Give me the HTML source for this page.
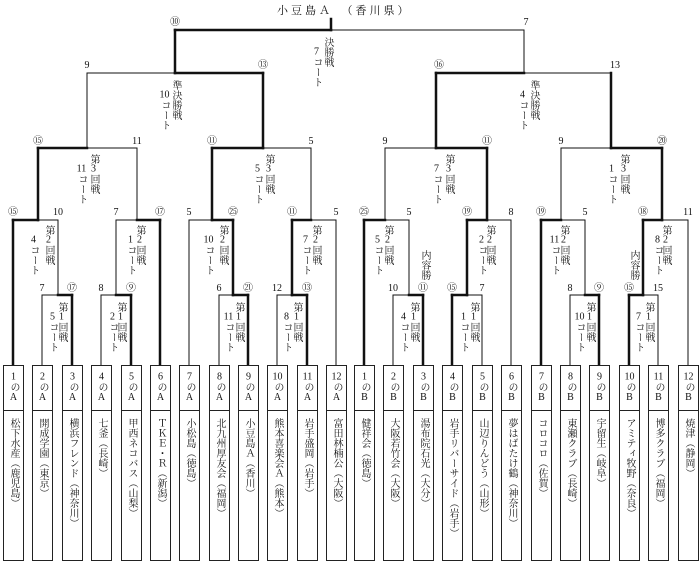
<!DOCTYPE html>
<html><head><meta charset="utf-8"><style>
html,body{margin:0;padding:0;background:#fff;}
#w{position:relative;width:700px;height:570px;overflow:hidden;font-family:"Liberation Serif","Noto Serif CJK SC","Noto Sans CJK JP",serif;color:#111;}
svg{position:absolute;left:0;top:0;}
.v{position:absolute;writing-mode:vertical-rl;text-orientation:upright;font-size:10px;line-height:10px;width:10px;white-space:nowrap;}
.v span{text-combine-upright:all;}
.box{position:absolute;top:365px;width:19px;height:194px;border:1px solid #222;background:#fff;}
.box .h{position:absolute;left:0;top:0;width:19px;height:44px;border-bottom:1px solid #222;}
.box .h div{position:absolute;left:4px;top:6px;writing-mode:vertical-rl;text-orientation:upright;font-size:10px;line-height:11px;}
.box .h span{text-combine-upright:all;}
.box .n{position:absolute;left:4px;top:52px;writing-mode:vertical-rl;text-orientation:upright;font-size:10px;line-height:11px;white-space:nowrap;}
.t{position:absolute;top:2px;left:277px;font-size:11px;letter-spacing:3px;white-space:nowrap;}
</style></head><body><div id="w">
<div class="t">小豆島Ａ　（香川県）</div>
<svg width="700" height="570" xmlns="http://www.w3.org/2000/svg" stroke="#111" stroke-linecap="square">
<g stroke-width="1">
<!-- left thin -->
<line x1="42" y1="365" x2="42" y2="295"/><line x1="42" y1="295" x2="58" y2="295"/>
<line x1="58" y1="295" x2="58" y2="220"/><line x1="38" y1="220" x2="58" y2="220"/>
<line x1="101" y1="365" x2="101" y2="295"/><line x1="101" y1="295" x2="116" y2="295"/>
<line x1="116" y1="295" x2="116" y2="220"/><line x1="116" y1="220" x2="137" y2="220"/>
<line x1="137" y1="220" x2="137" y2="148"/><line x1="87" y1="148" x2="137" y2="148"/>
<line x1="87" y1="148" x2="87" y2="73"/><line x1="87" y1="73" x2="175" y2="73"/>
<line x1="189" y1="365" x2="189" y2="220"/><line x1="189" y1="220" x2="212" y2="220"/>
<line x1="219" y1="365" x2="219" y2="295"/><line x1="219" y1="295" x2="233" y2="295"/>
<line x1="277" y1="365" x2="277" y2="295"/><line x1="277" y1="295" x2="292" y2="295"/>
<line x1="336" y1="365" x2="336" y2="220"/><line x1="311" y1="220" x2="336" y2="220"/>
<line x1="311" y1="220" x2="311" y2="148"/><line x1="263" y1="148" x2="311" y2="148"/>
<line x1="331" y1="30" x2="524" y2="30"/>
<!-- right thin -->
<line x1="393" y1="365" x2="393" y2="295"/><line x1="393" y1="295" x2="409" y2="295"/>
<line x1="409" y1="295" x2="409" y2="220"/><line x1="385" y1="220" x2="409" y2="220"/>
<line x1="385" y1="220" x2="385" y2="148"/><line x1="385" y1="148" x2="436" y2="148"/>
<line x1="482" y1="365" x2="482" y2="295"/><line x1="467" y1="295" x2="482" y2="295"/>
<line x1="511" y1="365" x2="511" y2="220"/><line x1="487" y1="220" x2="511" y2="220"/>
<line x1="570" y1="365" x2="570" y2="295"/><line x1="570" y1="295" x2="585" y2="295"/>
<line x1="585" y1="295" x2="585" y2="220"/><line x1="561" y1="220" x2="585" y2="220"/>
<line x1="561" y1="220" x2="561" y2="148"/><line x1="561" y1="148" x2="611" y2="148"/>
<line x1="658" y1="365" x2="658" y2="295"/><line x1="643" y1="295" x2="658" y2="295"/>
<line x1="688" y1="365" x2="688" y2="220"/><line x1="662" y1="220" x2="688" y2="220"/>
<line x1="524" y1="73" x2="611" y2="73"/><line x1="524" y1="73" x2="524" y2="30"/>
</g>
<g stroke-width="2.5">
<line x1="13" y1="365" x2="13" y2="220"/><line x1="13" y1="220" x2="38" y2="220"/>
<line x1="38" y1="220" x2="38" y2="148"/><line x1="38" y1="148" x2="87" y2="148"/>
<line x1="72" y1="365" x2="72" y2="295"/><line x1="58" y1="295" x2="72" y2="295"/>
<line x1="131" y1="365" x2="131" y2="295"/><line x1="116" y1="295" x2="131" y2="295"/>
<line x1="160" y1="365" x2="160" y2="220"/><line x1="137" y1="220" x2="160" y2="220"/>
<line x1="248" y1="365" x2="248" y2="295"/><line x1="233" y1="295" x2="248" y2="295"/>
<line x1="233" y1="295" x2="233" y2="220"/><line x1="212" y1="220" x2="233" y2="220"/>
<line x1="212" y1="220" x2="212" y2="148"/><line x1="212" y1="148" x2="263" y2="148"/>
<line x1="307" y1="365" x2="307" y2="295"/><line x1="292" y1="295" x2="307" y2="295"/>
<line x1="292" y1="295" x2="292" y2="220"/><line x1="292" y1="220" x2="311" y2="220"/>
<line x1="263" y1="148" x2="263" y2="73"/><line x1="175" y1="73" x2="263" y2="73"/>
<line x1="175" y1="73" x2="175" y2="30"/><line x1="175" y1="30" x2="331" y2="30"/>
<line x1="331" y1="30" x2="331" y2="19"/>
<line x1="364" y1="365" x2="364" y2="220"/><line x1="364" y1="220" x2="385" y2="220"/>
<line x1="423" y1="365" x2="423" y2="295"/><line x1="409" y1="295" x2="423" y2="295"/>
<line x1="452" y1="365" x2="452" y2="295"/><line x1="452" y1="295" x2="467" y2="295"/>
<line x1="467" y1="295" x2="467" y2="220"/><line x1="467" y1="220" x2="487" y2="220"/>
<line x1="487" y1="220" x2="487" y2="148"/><line x1="436" y1="148" x2="487" y2="148"/>
<line x1="436" y1="148" x2="436" y2="73"/><line x1="436" y1="73" x2="524" y2="73"/>
<line x1="541" y1="365" x2="541" y2="220"/><line x1="541" y1="220" x2="561" y2="220"/>
<line x1="599" y1="365" x2="599" y2="295"/><line x1="585" y1="295" x2="599" y2="295"/>
<line x1="629" y1="365" x2="629" y2="295"/><line x1="629" y1="295" x2="643" y2="295"/>
<line x1="643" y1="295" x2="643" y2="220"/><line x1="643" y1="220" x2="662" y2="220"/>
<line x1="662" y1="220" x2="662" y2="148"/><line x1="611" y1="148" x2="662" y2="148"/>
<line x1="611" y1="148" x2="611" y2="73"/>
</g>
<g stroke="none" fill="#111" font-size="10" text-anchor="middle" font-family="Liberation Serif, Noto Serif CJK SC, serif">
<text x="175" y="25">⑩</text><text x="526" y="25">7</text>
<text x="87" y="68">9</text><text x="263" y="68">⑬</text><text x="439" y="68">⑯</text><text x="615" y="68">13</text>
<text x="38" y="144">⑮</text><text x="137" y="144">11</text><text x="212" y="144">⑪</text><text x="311" y="144">5</text>
<text x="385" y="144">9</text><text x="487" y="144">⑪</text><text x="561" y="144">9</text><text x="662" y="144">⑳</text>
<text x="13" y="215">⑮</text><text x="58" y="215">10</text><text x="116" y="215">7</text><text x="160" y="215">⑰</text>
<text x="189" y="215">5</text><text x="233" y="215">㉕</text><text x="292" y="215">⑪</text><text x="336" y="215">5</text>
<text x="364" y="215">㉕</text><text x="409" y="215">5</text><text x="467" y="215">⑲</text><text x="511" y="215">8</text>
<text x="541" y="215">⑲</text><text x="585" y="215">5</text><text x="643" y="215">⑱</text><text x="688" y="215">11</text>
<text x="42" y="291">7</text><text x="72" y="291">⑰</text><text x="101" y="291">8</text><text x="131" y="291">⑨</text>
<text x="219" y="291">6</text><text x="248" y="291">㉑</text><text x="277" y="291">12</text><text x="307" y="291">⑬</text>
<text x="393" y="291">10</text><text x="423" y="291">⑪</text><text x="452" y="291">⑮</text><text x="482" y="291">7</text>
<text x="570" y="291">8</text><text x="599" y="291">⑨</text><text x="629" y="291">⑮</text><text x="658" y="291">15</text>
</g>
</svg>
<!-- match labels -->
<div class="v" style="left:322px;top:37px">決勝戦</div><div class="v" style="left:311px;top:47px"><span>7</span>コート</div>
<div class="v" style="left:170px;top:80px">準決勝戦</div><div class="v" style="left:159px;top:90px"><span>10</span>コート</div>
<div class="v" style="left:528px;top:80px">準決勝戦</div><div class="v" style="left:517px;top:90px"><span>4</span>コート</div>
<div class="v" style="left:88px;top:154px">第<span>3</span>回戦</div><div class="v" style="left:76px;top:164px"><span>11</span>コート</div>
<div class="v" style="left:263px;top:154px">第<span>3</span>回戦</div><div class="v" style="left:252px;top:164px"><span>5</span>コート</div>
<div class="v" style="left:443px;top:154px">第<span>3</span>回戦</div><div class="v" style="left:431px;top:164px"><span>7</span>コート</div>
<div class="v" style="left:618px;top:154px">第<span>3</span>回戦</div><div class="v" style="left:606px;top:164px"><span>1</span>コート</div>
<div class="v" style="left:43px;top:225px">第<span>2</span>回戦</div><div class="v" style="left:28px;top:235px"><span>4</span>コート</div>
<div class="v" style="left:134px;top:225px">第<span>2</span>回戦</div><div class="v" style="left:125px;top:235px"><span>1</span>コート</div>
<div class="v" style="left:217px;top:225px">第<span>2</span>回戦</div><div class="v" style="left:203px;top:235px"><span>10</span>コート</div>
<div class="v" style="left:310px;top:225px">第<span>2</span>回戦</div><div class="v" style="left:300px;top:235px"><span>7</span>コート</div>
<div class="v" style="left:382px;top:225px">第<span>2</span>回戦</div><div class="v" style="left:372px;top:235px"><span>5</span>コート</div>
<div class="v" style="left:484px;top:225px">第<span>2</span>回戦</div><div class="v" style="left:476px;top:235px"><span>2</span>コート</div>
<div class="v" style="left:558px;top:225px">第<span>2</span>回戦</div><div class="v" style="left:549px;top:235px"><span>11</span>コート</div>
<div class="v" style="left:660px;top:225px">第<span>2</span>回戦</div><div class="v" style="left:652px;top:235px"><span>8</span>コート</div>
<div class="v" style="left:419px;top:250px">内容勝</div><div class="v" style="left:628px;top:250px">内容勝</div>
<div class="v" style="left:56px;top:302px">第<span>1</span>回戦</div><div class="v" style="left:47px;top:312px"><span>5</span>コート</div>
<div class="v" style="left:115px;top:302px">第<span>1</span>回戦</div><div class="v" style="left:107px;top:312px"><span>2</span>コート</div>
<div class="v" style="left:233px;top:302px">第<span>1</span>回戦</div><div class="v" style="left:223px;top:312px"><span>11</span>コート</div>
<div class="v" style="left:291px;top:302px">第<span>1</span>回戦</div><div class="v" style="left:281px;top:312px"><span>8</span>コート</div>
<div class="v" style="left:408px;top:302px">第<span>1</span>回戦</div><div class="v" style="left:398px;top:312px"><span>4</span>コート</div>
<div class="v" style="left:468px;top:302px">第<span>1</span>回戦</div><div class="v" style="left:458px;top:312px"><span>1</span>コート</div>
<div class="v" style="left:584px;top:302px">第<span>1</span>回戦</div><div class="v" style="left:574px;top:312px"><span>10</span>コート</div>
<div class="v" style="left:643px;top:302px">第<span>1</span>回戦</div><div class="v" style="left:633px;top:312px"><span>7</span>コート</div>
<!-- boxes A -->
<div class="box" style="left:3px"><div class="h"><div><span>1</span>のA</div></div><div class="n">松下水産（鹿児島）</div></div>
<div class="box" style="left:32px"><div class="h"><div><span>2</span>のA</div></div><div class="n">開成学園（東京）</div></div>
<div class="box" style="left:62px"><div class="h"><div><span>3</span>のA</div></div><div class="n">横浜フレンド（神奈川）</div></div>
<div class="box" style="left:91px"><div class="h"><div><span>4</span>のA</div></div><div class="n">七釜（長崎）</div></div>
<div class="box" style="left:121px"><div class="h"><div><span>5</span>のA</div></div><div class="n">甲西ネコバス（山梨）</div></div>
<div class="box" style="left:150px"><div class="h"><div><span>6</span>のA</div></div><div class="n">ＴＫＥ・Ｒ（新潟）</div></div>
<div class="box" style="left:179px"><div class="h"><div><span>7</span>のA</div></div><div class="n">小松島（徳島）</div></div>
<div class="box" style="left:209px"><div class="h"><div><span>8</span>のA</div></div><div class="n">北九州厚友会（福岡）</div></div>
<div class="box" style="left:238px"><div class="h"><div><span>9</span>のA</div></div><div class="n">小豆島Ａ（香川）</div></div>
<div class="box" style="left:267px"><div class="h"><div><span>10</span>のA</div></div><div class="n">熊本喜楽会Ａ（熊本）</div></div>
<div class="box" style="left:297px"><div class="h"><div><span>11</span>のA</div></div><div class="n">岩手盛岡（岩手）</div></div>
<div class="box" style="left:326px"><div class="h"><div><span>12</span>のA</div></div><div class="n">富田林楠公（大阪）</div></div>
<!-- boxes B -->
<div class="box" style="left:354px"><div class="h"><div><span>1</span>のB</div></div><div class="n">健祥会（徳島）</div></div>
<div class="box" style="left:383px"><div class="h"><div><span>2</span>のB</div></div><div class="n">大阪若竹会（大阪）</div></div>
<div class="box" style="left:413px"><div class="h"><div><span>3</span>のB</div></div><div class="n">湯布院石光（大分）</div></div>
<div class="box" style="left:442px"><div class="h"><div><span>4</span>のB</div></div><div class="n">岩手リバーサイド（岩手）</div></div>
<div class="box" style="left:472px"><div class="h"><div><span>5</span>のB</div></div><div class="n">山辺りんどう（山形）</div></div>
<div class="box" style="left:501px"><div class="h"><div><span>6</span>のB</div></div><div class="n">夢はばたけ鶴（神奈川）</div></div>
<div class="box" style="left:531px"><div class="h"><div><span>7</span>のB</div></div><div class="n">コロコロ（佐賀）</div></div>
<div class="box" style="left:560px"><div class="h"><div><span>8</span>のB</div></div><div class="n">東瀬クラブ（長崎）</div></div>
<div class="box" style="left:589px"><div class="h"><div><span>9</span>のB</div></div><div class="n">宇留生（岐阜）</div></div>
<div class="box" style="left:619px"><div class="h"><div><span>10</span>のB</div></div><div class="n">アミティ牧野（奈良）</div></div>
<div class="box" style="left:648px"><div class="h"><div><span>11</span>のB</div></div><div class="n">博多クラブ（福岡）</div></div>
<div class="box" style="left:678px"><div class="h"><div><span>12</span>のB</div></div><div class="n">焼津（静岡）</div></div>
</div></body></html>
